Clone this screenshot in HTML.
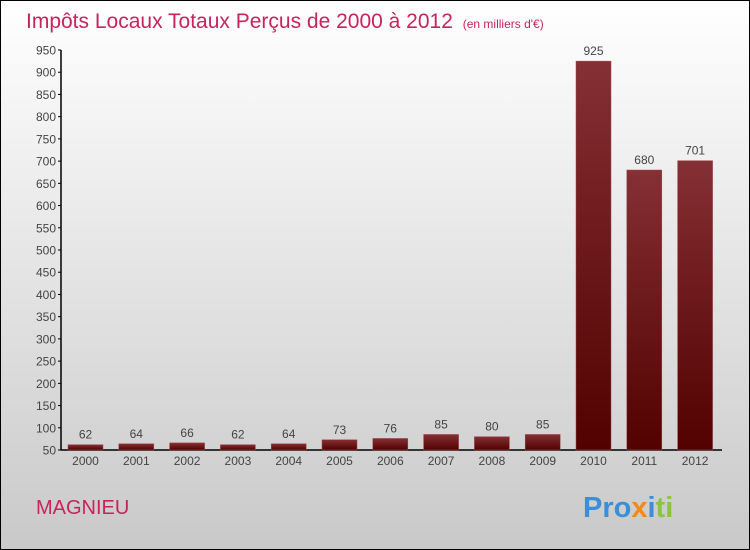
<!DOCTYPE html>
<html><head><meta charset="utf-8"><style>
body{margin:0;width:750px;height:550px;overflow:hidden}
svg{display:block;font-family:"Liberation Sans",sans-serif}
</style></head><body>
<svg width="750" height="550" viewBox="0 0 750 550">
<defs>
<linearGradient id="bg" x1="0" y1="0" x2="0" y2="1"><stop offset="0" stop-color="#ffffff"/><stop offset="1" stop-color="#c9c9c9"/></linearGradient>
<linearGradient id="bar" x1="0" y1="0" x2="0" y2="1"><stop offset="0" stop-color="#853034"/><stop offset="1" stop-color="#520000"/></linearGradient>
</defs>
<rect x="0.5" y="0.5" width="749" height="549" fill="url(#bg)" stroke="#000"/>
<text x="26" y="28" font-size="21" fill="#c8235a">Impôts Locaux Totaux Perçus de 2000 à 2012 <tspan font-size="12" dx="4">(en milliers d'€)</tspan></text>
<text x="36" y="514" font-size="20" fill="#c8235a">MAGNIEU</text>
<text x="583" y="517" font-size="29" font-weight="bold"><tspan fill="#3a8fd8">Pro</tspan><tspan fill="#f08a1c">x</tspan><tspan fill="#3a8fd8">i</tspan><tspan fill="#8bc43f">ti</tspan></text>
<g id="axes"></g>
<g id="bars"></g>
</svg>
<script>
const years=["2000","2001","2002","2003","2004","2005","2006","2007","2008","2009","2010","2011","2012"];
const values=[62,64,66,62,64,73,76,85,80,85,925,680,701];
const ticks=[50,100,150,200,250,300,350,400,450,500,550,600,650,700,750,800,850,900,950];
const NS="http://www.w3.org/2000/svg";
const y0=450,ppu=400/900,vmin=50;
function Y(v){return y0-(v-vmin)*ppu;}
function X(i){return 85.5+i*50.8;}
function mk(t,a,p){const e=document.createElementNS(NS,t);for(const k in a)e.setAttribute(k,a[k]);p.appendChild(e);return e;}
const ax=document.getElementById('axes'),bg=document.getElementById('bars');
const yl=mk('line',{x1:61,y1:Y(950),x2:61,y2:y0,stroke:'#000','stroke-width':1.5},ax);


const xl=mk('line',{x1:61,y1:y0,x2:722,y2:y0,stroke:'#000','stroke-width':1.5},ax);


ticks.forEach(t=>{
 mk('line',{x1:58,x2:61,y1:Y(t),y2:Y(t),stroke:'#000'},ax);
 const tx=mk('text',{x:56,y:Y(t)+4.5,'font-size':12,'text-anchor':'end',fill:'#444'},ax);
 tx.textContent=t;
 
 
});
values.forEach((v,i)=>{
 const r=mk('rect',{x:X(i)-17.5,y:Y(v),width:35,height:y0-Y(v),fill:'url(#bar)',stroke:'#a04a50','stroke-width':0.5},bg);
 
 
 const l=mk('text',{x:X(i),y:Y(v)-6,'font-size':12,'text-anchor':'middle',fill:'#444'},bg);
 l.textContent=v;
 
 
 const c=mk('text',{x:X(i),y:465,'font-size':12,'text-anchor':'middle',fill:'#444'},bg);
 c.textContent=years[i];
 
 
});
</script>
</body></html>
